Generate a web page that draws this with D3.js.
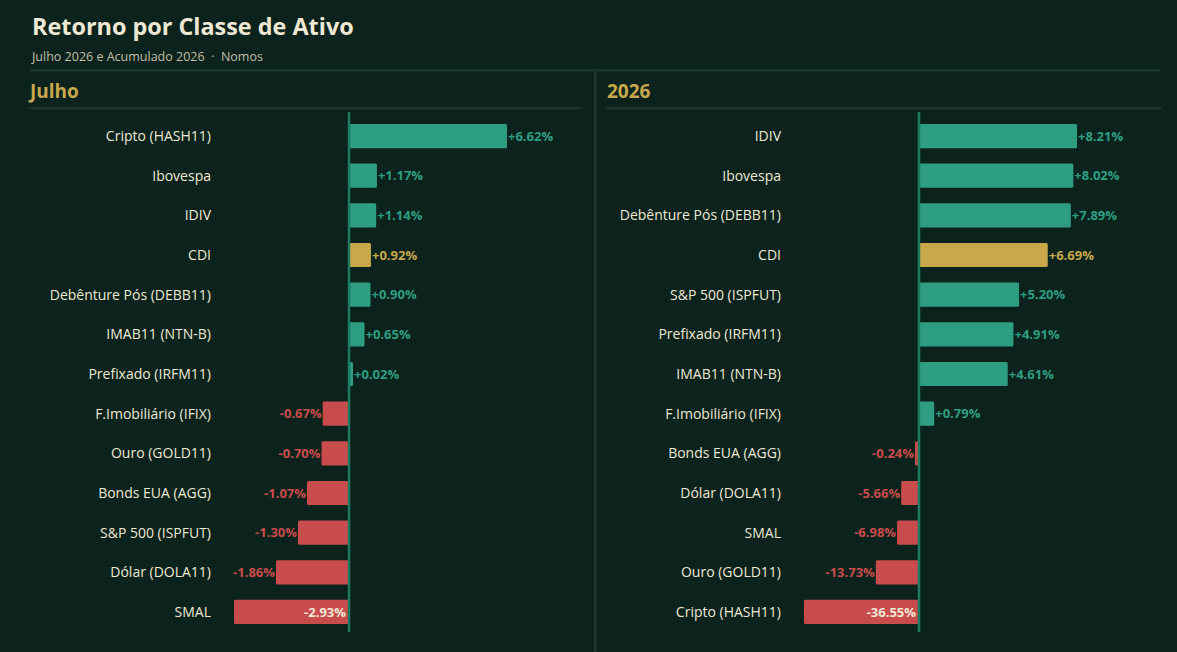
<!DOCTYPE html>
<html lang="pt">
<head>
<meta charset="UTF-8">
<title>Retorno por Classe de Ativo</title>
<script src="https://cdn.jsdelivr.net/npm/d3@7"></script>
<style>
  html, body { margin: 0; padding: 0; background: #0b231c; }
  svg { display: block; }
  text { font-family: "Open Sans", "Noto Sans", sans-serif; }
</style>
</head>
<body>
<div id="chart"></div>
<script>
// data
const julhoNames = ["Cripto (HASH11)", "Ibovespa", "IDIV", "CDI", "Debênture Pós (DEBB11)",
  "IMAB11 (NTN-B)", "Prefixado (IRFM11)", "F.Imobiliário (IFIX)", "Ouro (GOLD11)",
  "Bonds EUA (AGG)", "S&P 500 (ISPFUT)", "Dólar (DOLA11)", "SMAL"];
const julhoValues = [6.62, 1.17, 1.14, 0.92, 0.90, 0.65, 0.02, -0.67, -0.70, -1.07, -1.30, -1.86, -2.93];

const anoNames = ["IDIV", "Ibovespa", "Debênture Pós (DEBB11)", "CDI", "S&P 500 (ISPFUT)",
  "Prefixado (IRFM11)", "IMAB11 (NTN-B)", "F.Imobiliário (IFIX)", "Bonds EUA (AGG)",
  "Dólar (DOLA11)", "SMAL", "Ouro (GOLD11)", "Cripto (HASH11)"];
const anoValues = [8.21, 8.02, 7.89, 6.69, 5.20, 4.91, 4.61, 0.79, -0.24, -5.66, -6.98, -13.73, -36.55];

const panelTitles = ["Julho", "2026"];
const benchmark = "CDI";

const W = 1177, H = 652;
const bg = "#0b231c", rule = "#1a362d", axisCol = "#1f7a62";
const pos = "#2e9e82", neg = "#c94c4c", gold = "#c9a84c", cream = "#efe8d4";

const svg = d3.select("#chart").append("svg").attr("width", W).attr("height", H);
svg.append("rect").attr("width", W).attr("height", H).attr("fill", bg);

svg.append("text").attr("x", 32).attr("y", 35)
  .attr("fill", cream).attr("font-size", 23.4).attr("font-weight", 700)
  .text("Retorno por Classe de Ativo");
svg.append("text").attr("x", 32).attr("y", 61)
  .attr("fill", "#c2bda9").attr("font-size", 12.5)
  .text("Julho 2026 e Acumulado 2026\u00a0\u00a0·\u00a0\u00a0Nomos");

svg.append("rect").attr("x", 30).attr("y", 69).attr("width", 1130).attr("height", 2.5).attr("fill", rule);
svg.append("rect").attr("x", 594).attr("y", 70).attr("width", 2.5).attr("height", H - 70).attr("fill", rule);

// hx/hw: header position and rule width, x0: row block origin
function drawPanel(hx, hw, x0, title, names, values) {
  svg.append("text").attr("x", hx).attr("y", 98)
    .attr("fill", gold).attr("font-size", 19).attr("font-weight", 700)
    .text(title);
  svg.append("rect").attr("x", hx - 1).attr("y", 107).attr("width", hw).attr("height", 2.5).attr("fill", rule);

  const g = svg.append("g").attr("transform", `translate(${x0},0)`);
  const y = d3.scaleBand().domain(names).range([116, 632]).paddingInner(0.39).paddingOuter(0.2);
  const zero = 319;
  const x = d3.scaleLinear()
    .domain([d3.min(values), 0, d3.max(values)])
    .range([zero - 115, zero, zero + 158]);

  const rows = names.map((n, i) => ({ name: n, v: values[i] }));

  g.selectAll(".lbl").data(rows).join("text")
    .attr("x", 181).attr("y", d => y(d.name) + y.bandwidth() / 2)
    .attr("dy", "0.35em").attr("text-anchor", "end")
    .attr("fill", cream).attr("font-size", 14)
    .text(d => d.name);

  const colorOf = d => d.name === benchmark ? gold : (d.v >= 0 ? pos : neg);
  const barW = d => Math.max(4, Math.abs(x(d.v) - x(0)));

  g.selectAll(".bar").data(rows).join("rect")
    .attr("x", d => d.v >= 0 ? x(0) : x(0) - barW(d))
    .attr("y", d => y(d.name))
    .attr("width", barW)
    .attr("height", y.bandwidth())
    .attr("rx", 1.5)
    .attr("fill", colorOf);

  g.append("line").attr("x1", zero).attr("x2", zero).attr("y1", 112).attr("y2", 632)
    .attr("stroke", axisCol).attr("stroke-width", 2.5);

  const fmt = v => (v >= 0 ? "+" : "") + v.toFixed(2) + "%";
  g.selectAll(".val").data(rows).join("text")
    .attr("y", d => y(d.name) + y.bandwidth() / 2)
    .attr("dy", "0.35em")
    .attr("font-size", 13).attr("font-weight", 700)
    .each(function (d) {
      const t = d3.select(this);
      const w = barW(d);
      if (d.v >= 0) {
        t.attr("x", zero + w + 1).attr("text-anchor", "start").attr("fill", colorOf(d));
      } else if (w > 80) {
        t.attr("x", zero - 3).attr("text-anchor", "end").attr("fill", cream);
      } else {
        t.attr("x", zero - w - 1).attr("text-anchor", "end").attr("fill", colorOf(d));
      }
    })
    .text(d => fmt(d.v));
}

drawPanel(30, 554, 30, panelTitles[0], julhoNames, julhoValues);
drawPanel(607, 555, 600, panelTitles[1], anoNames, anoValues);
</script>
</body>
</html>
